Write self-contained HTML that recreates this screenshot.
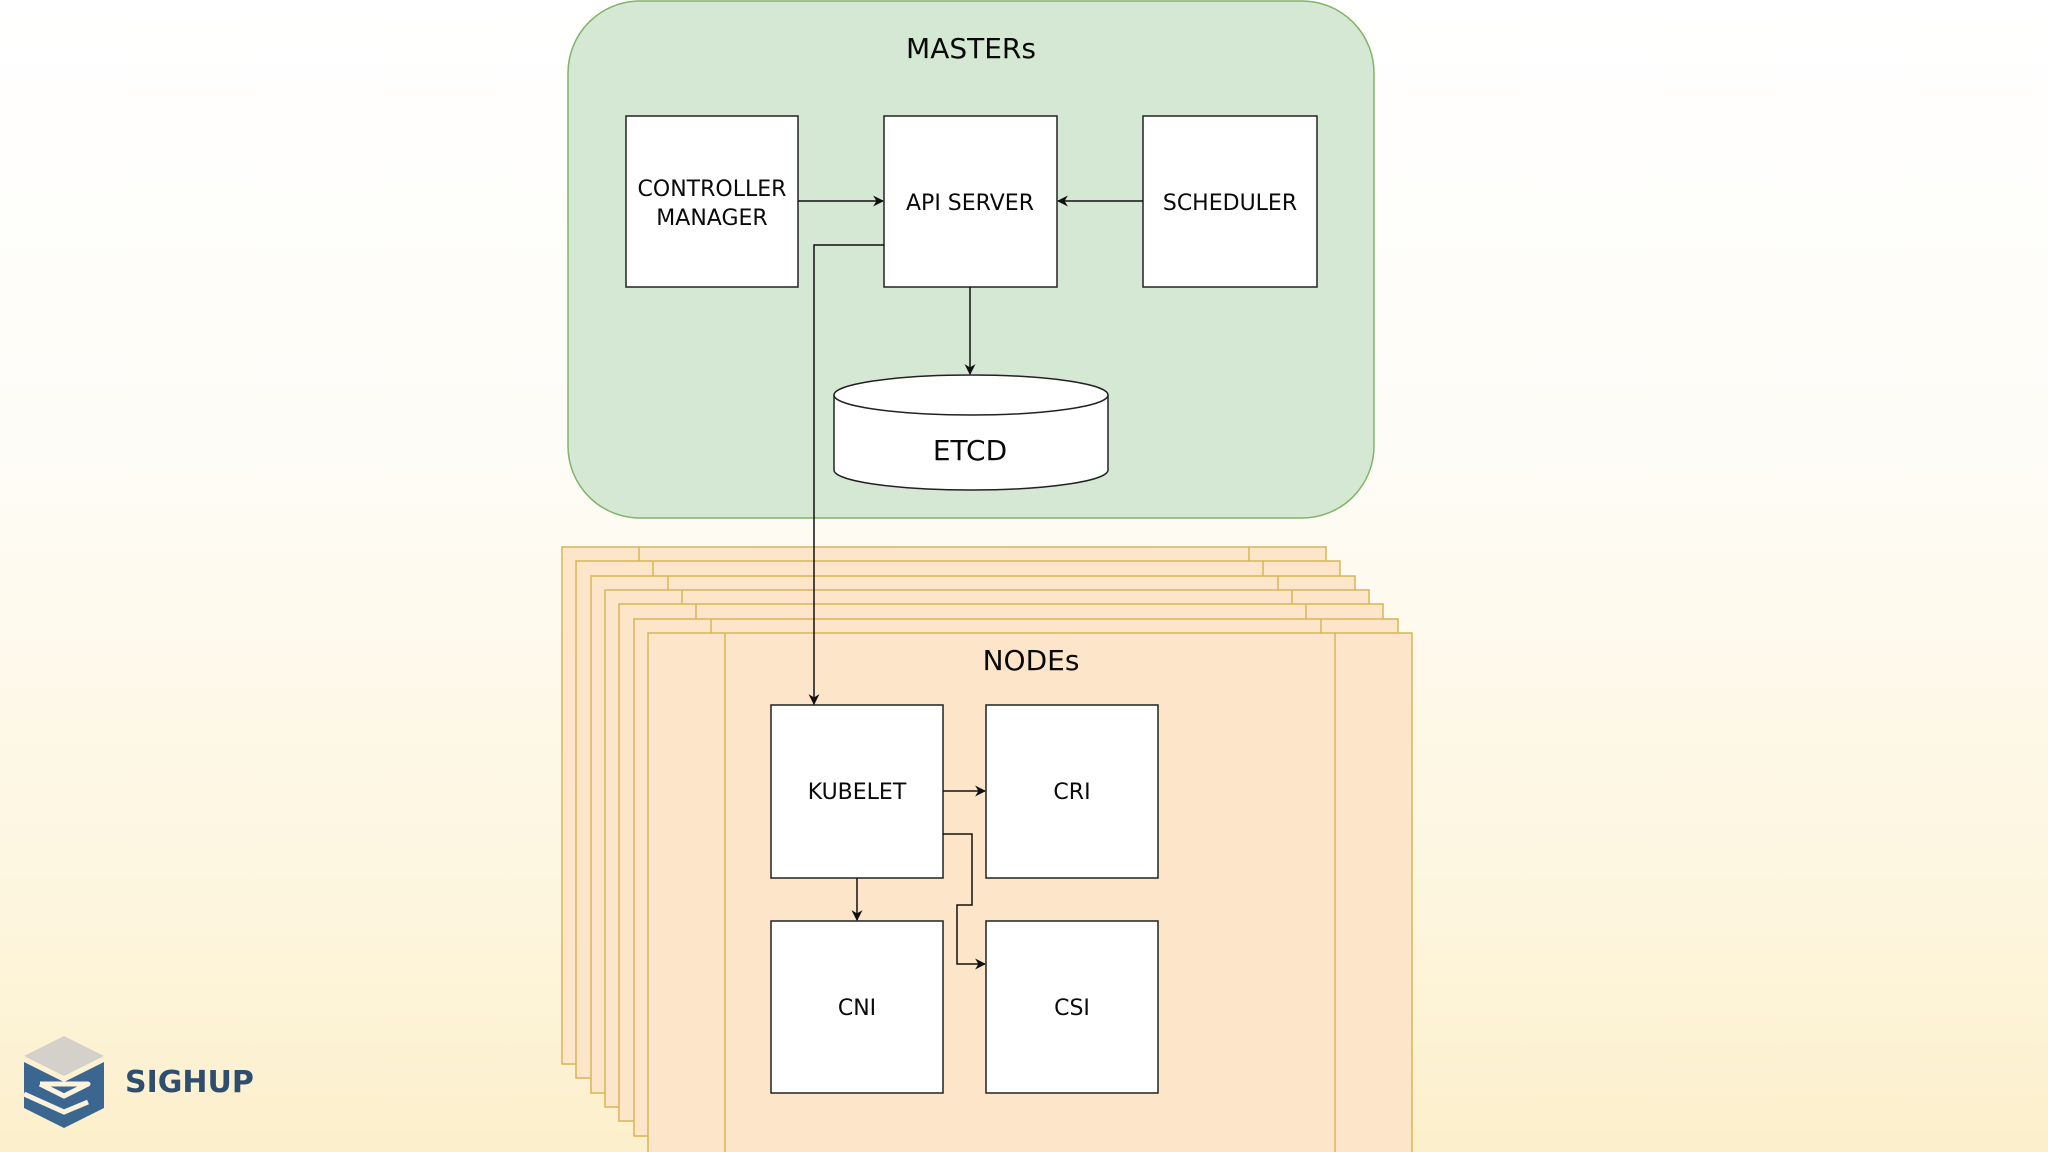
<!DOCTYPE html>
<html><head><style>
html,body{margin:0;padding:0;}
body{width:2048px;height:1152px;overflow:hidden;background:linear-gradient(180deg,#ffffff 0%,#fefcf6 40%,#fdf5dd 80%,#fcefcb 100%);}
svg{display:block}
text{font-family:"DejaVu Sans","Liberation Sans",sans-serif;fill:#0a0a0a;}
</style></head><body>
<svg width="2048" height="1152" viewBox="0 0 2048 1152" xmlns="http://www.w3.org/2000/svg">
<defs>
<marker id="a" viewBox="0 0 10 10" refX="9" refY="5" markerWidth="11" markerHeight="11" orient="auto" markerUnits="userSpaceOnUse">
<path d="M0,0 L10,5 L0,10 L3,5 z" fill="#111"/></marker>
</defs>
<rect x="568" y="1" width="806" height="517" rx="72" fill="#d5e8d4" stroke="#82b366" stroke-width="1.5"/>
<text x="971" y="58" font-size="28" text-anchor="middle">MASTERs</text>
<g fill="#fff" stroke="#222" stroke-width="1.5">
<rect x="626" y="116" width="172" height="171"/>
<rect x="884" y="116" width="173" height="171"/>
<rect x="1143" y="116" width="174" height="171"/>
</g>
<text x="712" y="196" font-size="22" text-anchor="middle">CONTROLLER</text>
<text x="712" y="225" font-size="22" text-anchor="middle">MANAGER</text>
<text x="970" y="210" font-size="22" text-anchor="middle">API SERVER</text>
<text x="1230" y="210" font-size="22" text-anchor="middle">SCHEDULER</text>
<g stroke="#111" stroke-width="1.5" fill="none">
<line x1="798" y1="201" x2="883" y2="201" marker-end="url(#a)"/>
<line x1="1143" y1="201" x2="1058" y2="201" marker-end="url(#a)"/>
<line x1="970" y1="287" x2="970" y2="374" marker-end="url(#a)"/>
</g>
<path d="M834,395 L834,470 A137,20 0 0 0 1108,470 L1108,395" fill="#fff" stroke="#222" stroke-width="1.5"/>
<ellipse cx="971" cy="395" rx="137" ry="20" fill="#fff" stroke="#222" stroke-width="1.5"/>
<text x="970" y="460" font-size="28" text-anchor="middle">ETCD</text>
<g fill="#fde5c9" stroke="#d6b656" stroke-width="1.5">
<rect x="562" y="547" width="764" height="517"/><line x1="639" y1="547" x2="639" y2="1064"/><line x1="1249" y1="547" x2="1249" y2="1064"/>
<rect x="576" y="561" width="764" height="517"/><line x1="653" y1="561" x2="653" y2="1078"/><line x1="1263" y1="561" x2="1263" y2="1078"/>
<rect x="591" y="576" width="764" height="517"/><line x1="668" y1="576" x2="668" y2="1093"/><line x1="1278" y1="576" x2="1278" y2="1093"/>
<rect x="605" y="590" width="764" height="517"/><line x1="682" y1="590" x2="682" y2="1107"/><line x1="1292" y1="590" x2="1292" y2="1107"/>
<rect x="619" y="604" width="764" height="517"/><line x1="696" y1="604" x2="696" y2="1121"/><line x1="1306" y1="604" x2="1306" y2="1121"/>
<rect x="634" y="619" width="764" height="517"/><line x1="711" y1="619" x2="711" y2="1136"/><line x1="1321" y1="619" x2="1321" y2="1136"/>
<rect x="648" y="633" width="764" height="530"/><line x1="725" y1="633" x2="725" y2="1152"/><line x1="1335" y1="633" x2="1335" y2="1152"/>
</g>
<text x="1031" y="670" font-size="28" text-anchor="middle">NODEs</text>
<g fill="#fff" stroke="#222" stroke-width="1.5">
<rect x="771" y="705" width="172" height="173"/>
<rect x="986" y="705" width="172" height="173"/>
<rect x="771" y="921" width="172" height="172"/>
<rect x="986" y="921" width="172" height="172"/>
</g>
<text x="857" y="799" font-size="22" text-anchor="middle">KUBELET</text>
<text x="1072" y="799" font-size="22" text-anchor="middle">CRI</text>
<text x="857" y="1015" font-size="22" text-anchor="middle">CNI</text>
<text x="1072" y="1015" font-size="22" text-anchor="middle">CSI</text>
<g stroke="#111" stroke-width="1.5" fill="none">
<polyline points="884,245 814,245 814,704" marker-end="url(#a)"/>
<line x1="943" y1="791" x2="985" y2="791" marker-end="url(#a)"/>
<line x1="857" y1="878" x2="857" y2="920" marker-end="url(#a)"/>
<polyline points="943,834 972,834 972,905 957,905 957,964 985,964" marker-end="url(#a)"/>
</g>
<g>
<polygon points="64,1036 104,1056 64,1076 24,1056" fill="#d3d1c9"/>
<polygon points="24,1062 64,1082 104,1062 104,1108 64,1128 24,1108" fill="#3a6690"/>
<polyline points="40,1084 64,1096 88,1084 40,1084" fill="none" stroke="#fdf3dc" stroke-width="5" stroke-linejoin="round"/>
<polyline points="24,1094 64,1112 88,1102" fill="none" stroke="#fdf3dc" stroke-width="5"/>
</g>
<text x="125" y="1092" font-size="30" font-weight="bold" style="font-family:'DejaVu Sans','Liberation Sans',sans-serif;fill:#2f4e6f">SIGHUP</text>
</svg>
</body></html>
